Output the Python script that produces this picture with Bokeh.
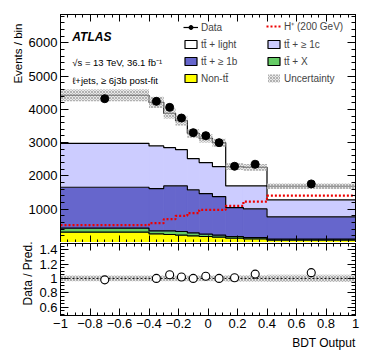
import numpy as np
from bokeh.plotting import figure
from bokeh.models import (ColumnDataSource, FixedTicker, CustomJSTickFormatter, LinearAxis,
                          Label, Legend, LegendItem, Range1d, Title)
from bokeh.layouts import column
from bokeh.embed import file_html
from bokeh.resources import INLINE

# ---------------- data ----------------
bin_edges = [-1.0, -0.4, -0.3, -0.22, -0.14, -0.06, 0.03, 0.12, 0.24, 0.4, 1.0]
data_counts = [4320, 4240, 4060, 3740, 3300, 3210, 3000, 2290, 2350, 1760]
non_ttbar = [310, 260, 240, 220, 200, 180, 160, 130, 110, 70]
ttbar_X = [120, 90, 110, 110, 90, 70, 60, 50, 40, 30]
ttbar_1b = [1230, 1270, 1350, 1370, 1290, 1220, 1160, 870, 860, 670]
ttbar_1c = [1320, 1280, 1150, 1090, 940, 930, 900, 650, 690, 510]
ttbar_light = [1440, 1310, 1030, 870, 760, 730, 720, 580, 560, 410]
hplus_200 = [520, 580, 700, 800, 880, 980, 980, 1100, 1230, 1410]
ratio_vals = [0.98, 1.00, 1.05, 1.02, 1.00, 1.03, 1.00, 1.01, 1.06, 1.08]
rel_uncert = [0.04, 0.04, 0.04, 0.04, 0.04, 0.04, 0.04, 0.045, 0.045, 0.05]

x_ticks = [-1.0, -0.8, -0.6, -0.4, -0.2, 0.0, 0.2, 0.4, 0.6, 0.8, 1.0]
main_y_ticks = [1000, 2000, 3000, 4000, 5000, 6000]
ratio_y_ticks = [0.6, 0.8, 1.0, 1.2, 1.4]

FONT = "Liberation Sans"
C_LIGHT = "#ffffff"
C_1C = "#ccccff"
C_1B = "#6666cc"
C_X = "#66cc66"
C_NON = "#ffff00"

edges = np.array(bin_edges)
left = edges[:-1]
right = edges[1:]
centers = 0.5 * (left + right)

comps = [("Non-tt\u0304", non_ttbar, C_NON),
         ("tt\u0304 + X", ttbar_X, C_X),
         ("tt\u0304 + \u2265 1b", ttbar_1b, C_1B),
         ("tt\u0304 + \u2265 1c", ttbar_1c, C_1C),
         ("tt\u0304 + light", ttbar_light, C_LIGHT)]

fmt = CustomJSTickFormatter(code="""
    let s;
    if (Math.abs(tick - Math.round(tick)) < 1e-9) { s = Math.round(tick).toString(); }
    else { s = tick.toFixed(1); }
    return s.replace('-', '\\u2212');
""")

def style_axis(ax, ticks, minor, show_labels, major_len=8, minor_len=4):
    ax.ticker = FixedTicker(ticks=ticks, minor_ticks=minor)
    ax.major_tick_in = major_len
    ax.major_tick_out = 0
    ax.minor_tick_in = minor_len
    ax.minor_tick_out = 0
    ax.axis_line_color = "black"
    ax.major_tick_line_color = "black"
    ax.minor_tick_line_color = "black"
    ax.axis_line_width = 1
    if show_labels:
        ax.formatter = fmt
        ax.major_label_text_font = FONT
        ax.major_label_text_font_size = "13px"
        ax.major_label_text_color = "black"
        ax.major_label_standoff = 3
    else:
        ax.major_label_text_font_size = "0px"
        ax.major_label_standoff = 0
        ax.major_label_text_alpha = 0

x_minor = list(np.round(np.arange(-1.0, 1.0001, 0.05), 3))
main_minor = list(np.arange(0, 6850, 200))
ratio_minor = list(np.round(np.arange(0.5, 1.49, 0.05), 3))

xr = Range1d(-1, 1)

# ---------------- main panel ----------------
p = figure(width=374, height=242, x_range=xr, y_range=Range1d(0, 6850),
           output_backend="svg", toolbar_location=None,
           x_axis_location=None, y_axis_location=None,
           min_border_left=60, min_border_right=19, min_border_top=14, min_border_bottom=0)
p.grid.visible = False
p.outline_line_color = "black"
p.background_fill_color = "white"

ax_l = LinearAxis(); style_axis(ax_l, main_y_ticks, main_minor, True)
ax_r = LinearAxis(); style_axis(ax_r, main_y_ticks, main_minor, False)
ax_b = LinearAxis(); style_axis(ax_b, x_ticks, x_minor, False, 7, 3)
ax_t = LinearAxis(); style_axis(ax_t, x_ticks, x_minor, False, 7, 3)
p.add_layout(ax_l, "left")
p.add_layout(ax_r, "right")
p.add_layout(ax_b, "below")
p.add_layout(ax_t, "above")
p.add_layout(Title(text="Events / bin", align="right", text_font=FONT, text_font_size="11.5px",
                   text_font_style="normal", text_color="black", standoff=4, offset=9), "left")

bottom = np.zeros(len(left))
legend_dummies = {}
tops = []
for name, vals, col in comps:
    top = bottom + np.array(vals, dtype=float)
    src = ColumnDataSource(dict(left=left, right=right, bottom=bottom, top=top))
    p.quad(left="left", right="right", bottom="bottom", top="top", source=src,
           fill_color=col, line_color=col, line_width=0.8)
    tops.append(top)
    legend_dummies[name] = p.quad(left=[np.nan], right=[np.nan], bottom=[np.nan], top=[np.nan],
                                  fill_color=col, line_color="black", line_width=1.2)
    bottom = top
for top in tops:
    p.step(x=list(edges), y=list(top) + [top[-1]], mode="after", line_color="black", line_width=1.2)

total = bottom
unc = np.array(rel_uncert) * total
band = p.quad(left=left, right=right, bottom=total - unc, top=total + unc,
              fill_color="#d8d8d8", fill_alpha=0.6, line_color=None,
              hatch_pattern="x", hatch_color="#8c8c8c", hatch_scale=3, hatch_weight=0.6)

hp = p.step(x=list(edges), y=list(hplus_200) + [hplus_200[-1]], mode="after",
            line_color="#ee0000", line_width=2.2, line_dash="2 2")

d = np.array(data_counts, dtype=float)
err = p.segment(x0=centers, x1=centers, y0=d - np.sqrt(d), y1=d + np.sqrt(d),
                line_color="black", line_width=1.2)
dots = p.scatter(x=centers, y=d, size=8, marker="circle", fill_color="black", line_color="black")

p.add_layout(Label(x=-0.92, y=6180, text="ATLAS", text_font=FONT, text_font_style="bold italic",
                   text_font_size="12px", text_baseline="middle", text_color="black"))
p.add_layout(Label(x=-0.92, y=5400, text="\u221as = 13 TeV, 36.1 fb\u207b\u00b9", text_font=FONT,
                   text_font_size="9.5px", text_baseline="middle", text_color="black"))
p.add_layout(Label(x=-0.92, y=4860, text="\u2113+jets, \u2265 6j3b post-fit", text_font=FONT,
                   text_font_size="9.5px", text_baseline="middle", text_color="black"))

def make_legend(items, loc):
    lg = Legend(items=items, location=loc, border_line_color=None, background_fill_alpha=0,
                padding=0, margin=0, spacing=5, label_height=12, glyph_height=10, glyph_width=15,
                label_standoff=3, label_text_font=FONT, label_text_font_size="10px",
                label_text_baseline="middle")
    return lg

leg1 = make_legend([LegendItem(label="Data", renderers=[err, dots]),
                    LegendItem(label="tt\u0304 + light", renderers=[legend_dummies["tt\u0304 + light"]]),
                    LegendItem(label="tt\u0304 + \u2265 1b", renderers=[legend_dummies["tt\u0304 + \u2265 1b"]]),
                    LegendItem(label="Non-tt\u0304", renderers=[legend_dummies["Non-tt\u0304"]])],
                   (123, 158))
leg2 = make_legend([LegendItem(label="H\u207a (200 GeV)", renderers=[hp]),
                    LegendItem(label="tt\u0304 + \u2265 1c", renderers=[legend_dummies["tt\u0304 + \u2265 1c"]]),
                    LegendItem(label="tt\u0304 + X", renderers=[legend_dummies["tt\u0304 + X"]]),
                    LegendItem(label="Uncertainty", renderers=[band])],
                   (206, 158))
p.add_layout(leg1)
p.add_layout(leg2)

# ---------------- ratio panel ----------------
r = figure(width=374, height=117, x_range=xr, y_range=Range1d(0.485, 1.485),
           output_backend="svg", toolbar_location=None,
           x_axis_location=None, y_axis_location=None,
           min_border_left=60, min_border_right=19, min_border_top=1, min_border_bottom=44)
r.grid.visible = False
r.outline_line_color = "black"

rax_l = LinearAxis(); style_axis(rax_l, ratio_y_ticks, ratio_minor, True, 8, 4)
rax_r = LinearAxis(); style_axis(rax_r, ratio_y_ticks, ratio_minor, False, 8, 4)
rax_b = LinearAxis(); style_axis(rax_b, x_ticks, x_minor, True, 7, 3)
rax_t = LinearAxis(); style_axis(rax_t, x_ticks, x_minor, False, 7, 3)
r.add_layout(rax_l, "left")
r.add_layout(rax_r, "right")
r.add_layout(rax_b, "below")
r.add_layout(rax_t, "above")
r.add_layout(Title(text="Data / Pred.", align="right", text_font=FONT, text_font_size="12px",
                   text_font_style="normal", text_color="black", standoff=4, offset=-2), "left")
r.add_layout(Title(text="BDT Output", align="right", text_font=FONT, text_font_size="12px",
                   text_font_style="normal", text_color="black", standoff=6), "below")

ru = np.array(rel_uncert)
r.quad(left=left, right=right, bottom=1 - ru, top=1 + ru,
       fill_color="#d8d8d8", fill_alpha=0.6, line_color=None,
       hatch_pattern="x", hatch_color="#8c8c8c", hatch_scale=3, hatch_weight=0.6)
r.line(x=[-1, 1], y=[1, 1], line_color="black", line_dash="2 2", line_width=1)
r.scatter(x=centers, y=ratio_vals, size=8, marker="circle", fill_color="white",
          line_color="black", line_width=1.1)

layout = column(p, r, spacing=0)
open("out.html", "w").write(file_html(layout, INLINE))
